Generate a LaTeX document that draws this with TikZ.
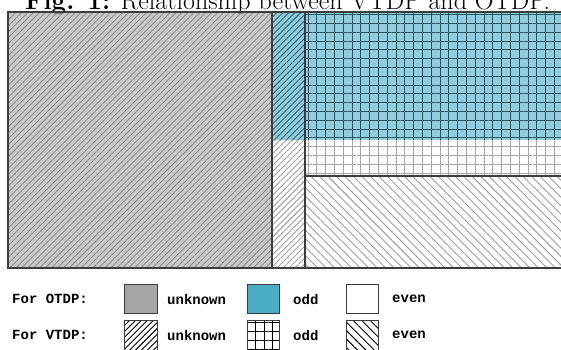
\documentclass[tikz,border=0pt]{standalone}
\usepackage{fontspec}
\setmonofont{Liberation Mono}
\usetikzlibrary{patterns.meta}
\definecolor{otdpgray}{HTML}{A6A6A6}
\definecolor{otdpblue}{HTML}{4BACC6}
\definecolor{edgegray}{HTML}{3C3C3C}
\tikzset{
  otdpfill/.style={fill=#1, fill opacity=0.6},
  vtdpunknown/.style={pattern={Lines[angle=45,distance=4.2pt,line width=0.9pt]}, pattern color=#1},
  vtdpoddh/.style={pattern={Lines[angle=0,distance=8.8pt,line width=0.9pt]}, pattern color=#1},
  vtdpoddv/.style={pattern={Lines[angle=90,distance=8.8pt,line width=0.9pt]}, pattern color=#1},
  vtdpeven/.style={pattern={Lines[angle=-45,distance=6pt,line width=0.9pt]}, pattern color=#1},
  vtdpunknown/.default=black, vtdpoddh/.default=black,
  vtdpoddv/.default=black, vtdpeven/.default=black,
  border/.style={draw=edgegray, line width=1.4pt},
  swatch/.style={draw=edgegray, line width=0.8pt},
  legendtext/.style={anchor=west, inner sep=0pt, font=\fontsize{14}{16}\selectfont\ttfamily\bfseries}
}
\begin{document}
\begin{tikzpicture}[x=1pt, y=-1pt]
  \useasboundingbox (0,0) rectangle (561,349);
  \node[anchor=base west, inner sep=0pt, font=\fontsize{26}{30}\selectfont] (title) at (25,9)
    {\textbf{Fig. 1:} Relationship between VTDP and OTDP.};
  % OTDP colours
  \fill[otdpfill=otdpgray] (8,12) rectangle (272,268);
  \fill[otdpfill=otdpblue] (272,12) rectangle (561,140);
  % VTDP patterns
  \path[vtdpunknown=black!45] (8,12) rectangle (272,268);
  \path[vtdpunknown=otdpblue!55!black] (272,12) rectangle (305,140);
  \path[vtdpunknown=black!38] (272,140) rectangle (305,268);
  \path[vtdpoddh=otdpblue!50!black] (305,12) rectangle (561,140);
  \path[vtdpoddv=otdpblue!50!black] (305,12) rectangle (561,140);
  \path[vtdpoddh=black!35] (305,140) rectangle (561,176);
  \path[vtdpoddv=black!35] (305,140) rectangle (561,176);
  \path[vtdpeven=black!38] (305,176) rectangle (561,268);
  % borders
  \draw[border] (561,12) -- (8,12) -- (8,268) -- (561,268);
  \draw[border] (272,12) -- (272,268);
  \draw[border] (305,12) -- (305,268);
  \draw[border] (305,176) -- (561,176);
  % legend
  \node[legendtext] (otdp) at (12,299) {For OTDP:};
  \node[legendtext] (vtdp) at (12,335) {For VTDP:};
  \filldraw[swatch, fill=otdpgray] (124,284) rectangle (157,313);
  \filldraw[swatch, fill=otdpblue] (247,284) rectangle (279,313);
  \draw[swatch] (346,284) rectangle (378,313);
  \filldraw[swatch, vtdpunknown] (124,320) rectangle (157,352);
  \path[vtdpoddh] (247,320) rectangle (279,352);
  \filldraw[swatch, vtdpoddv] (247,320) rectangle (279,352);
  \filldraw[swatch, vtdpeven] (346,320) rectangle (378,352);
  \node[legendtext] (otdpunknown) at (167,299) {unknown};
  \node[legendtext] (otdpodd) at (293,299) {odd};
  \node[legendtext] (otdpeven) at (392,299) {even};
  \node[legendtext] (vtdpunknownlabel) at (167,335) {unknown};
  \node[legendtext] (vtdpoddlabel) at (293,335) {odd};
  \node[legendtext] (vtdpevenlabel) at (392,335) {even};
\end{tikzpicture}
\end{document}
